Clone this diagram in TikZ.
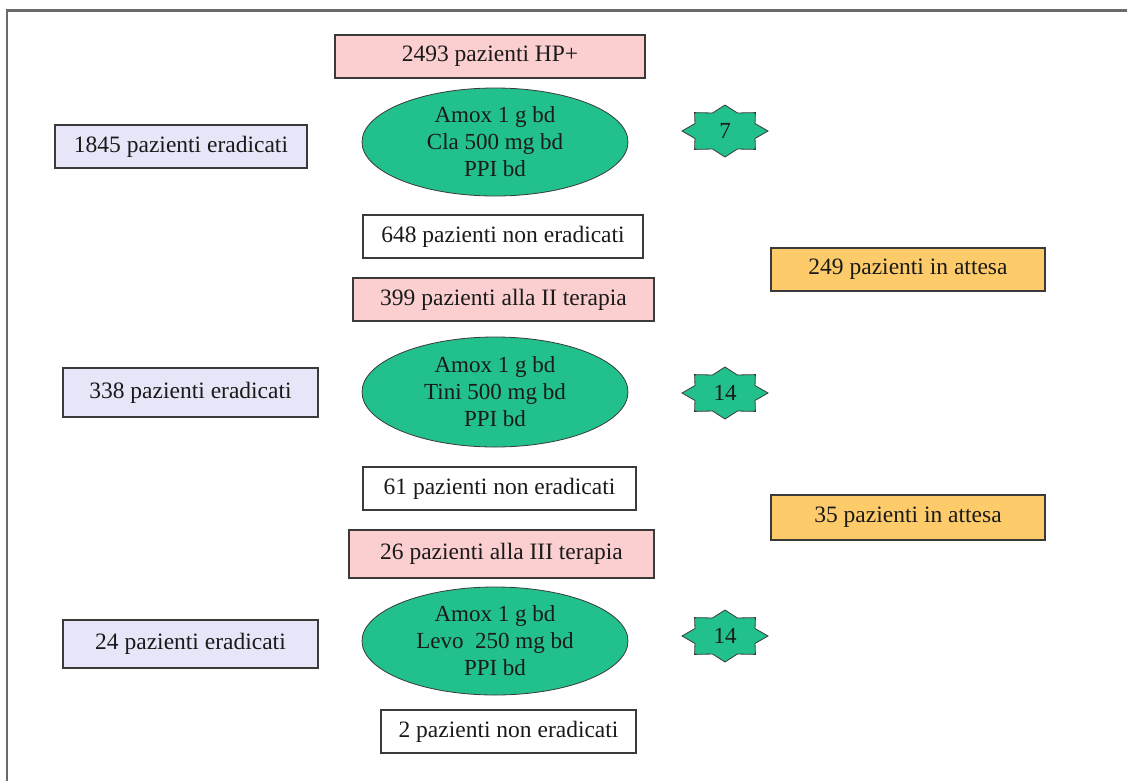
\documentclass[tikz,border=0pt]{standalone}
\usepackage{fontspec}
\setmainfont{Liberation Serif}
\usetikzlibrary{shapes.geometric, positioning}
\definecolor{hpline}{HTML}{3A3A3A}
\definecolor{hpframe}{HTML}{6A6A6A}
\definecolor{hppink}{HTML}{FBCFCF}
\definecolor{hplav}{HTML}{E6E6F8}
\definecolor{hporange}{HTML}{FDCB69}
\definecolor{hpgreen}{HTML}{22C08C}
\definecolor{hptext}{HTML}{1A1A1A}
\tikzset{
  cohort/.style={rectangle, draw=hpline, line width=1.1pt, fill=hppink,
              text=hptext, font=\fontsize{23.5}{28}\selectfont, inner sep=2pt, minimum height=43pt},
  cured/.style={cohort, fill=hplav},
  failed/.style={cohort, fill=white},
  waiting/.style={cohort, fill=hporange},
  regimen/.style={ellipse, draw=hpline, line width=0.8pt, fill=hpgreen, text=hptext,
              align=center, font=\fontsize{23}{27}\selectfont, inner sep=0pt,
              minimum width=266pt, minimum height=108pt},
  badge/.style={draw=hpline, line width=0.8pt, fill=hpgreen},
  badgetxt/.style={text=hptext, font=\fontsize{23}{27}\selectfont, inner sep=0pt},
}
\newcommand{\daysbadge}[3]{%
  \coordinate (#1c) at (#2);
  \draw[badge] (#1c) +(0:43 and 26)
    \foreach \a in {0,45,...,315}{ -- +(\a+22.5:32.5 and 19.5) -- +(\a+45:43 and 26)} -- cycle;
  \node[badgetxt] (#1) at (#1c) {#3};}

\begin{document}
\begin{tikzpicture}[x=1pt, y=-1pt]
  \useasboundingbox (0,0) rectangle (1127,780);
  \fill[white] (0,0) rectangle (1127,780);
  \draw[hpframe, line width=2.2pt] (7,790) -- (7,10.5) -- (1140,10.5);

  % first therapy
  \node[cohort, minimum width=310pt] (start) at (490,56.5) {2493 pazienti HP+};
  \node[regimen] (rx1) at (495,142) {Amox 1 g bd\\Cla 500 mg bd\\PPI bd};
  \node[cured, minimum width=252pt] (cured1) at (181,146.5) {1845 pazienti eradicati};
  \daysbadge{days1}{725,131}{7}
  \node[failed, minimum width=280pt] (fail1) at (503,236.5) {648 pazienti non eradicati};
  \node[waiting, minimum width=274pt] (wait1) at (908,269.5) {249 pazienti in attesa};

  % second therapy
  \node[cohort, minimum width=301pt] (second) at (503.5,299.5) {399 pazienti alla II terapia};
  \node[regimen, minimum height=110pt] (rx2) at (495,392) {Amox 1 g bd\\Tini 500 mg bd\\PPI bd};
  \node[cured, minimum width=255pt, minimum height=49pt] (cured2) at (190.5,392.5) {338 pazienti eradicati};
  \daysbadge{days2}{725,393}{14}
  \node[failed, minimum width=273pt] (fail2) at (499.5,488.5) {61 pazienti non eradicati};
  \node[waiting, minimum width=274pt, minimum height=45pt] (wait2) at (908,517.5) {35 pazienti in attesa};

  % third therapy
  \node[cohort, minimum width=305pt, minimum height=48pt] (third) at (501.5,554) {26 pazienti alla III terapia};
  \node[regimen] (rx3) at (495,641) {Amox 1 g bd\\Levo~ 250 mg bd\\PPI bd};
  \node[cured, minimum width=255pt, minimum height=48pt] (cured3) at (190.5,644) {24 pazienti eradicati};
  \daysbadge{days3}{725,636}{14}
  \node[failed, minimum width=255pt] (fail3) at (508.5,731.5) {2 pazienti non eradicati};
\end{tikzpicture}
\end{document}
